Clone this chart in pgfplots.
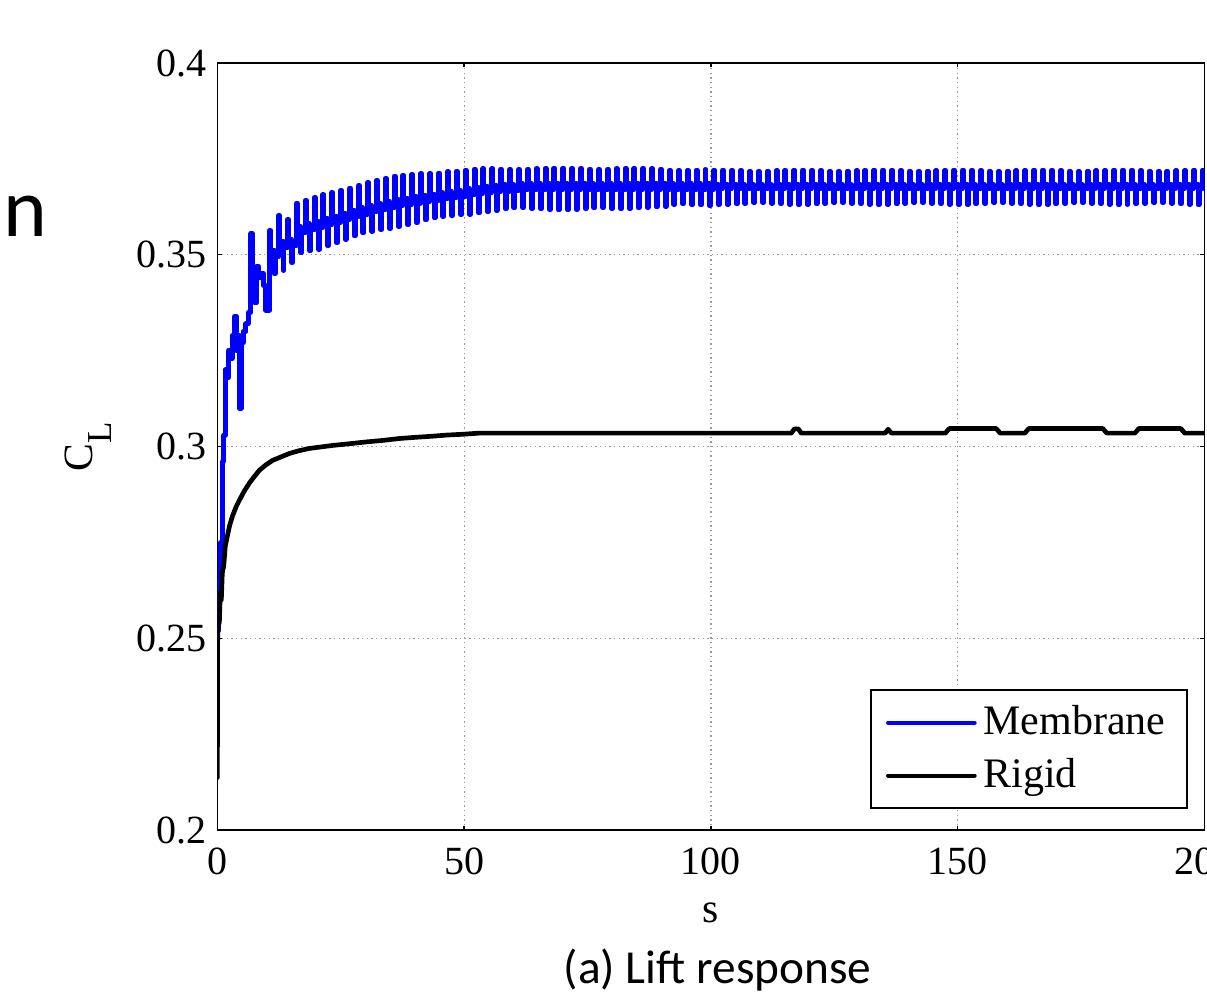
\documentclass[border=0pt]{standalone}
\usepackage{fontspec}
\setmainfont{Liberation Serif}
\newfontfamily\carlito{Carlito}
\usepackage{pgfplots}
\pgfplotsset{compat=1.18}
\begin{document}
\begin{tikzpicture}
\begin{axis}[
  scale only axis, width=296.1pt, height=230.1pt,
  xmin=0, xmax=200, ymin=0.2, ymax=0.4,
  xtick={0,50,100,150,200}, xticklabels={0,50,100,150,200},
  ytick={0.2,0.25,0.3,0.35,0.4}, yticklabels={0.2,0.25,0.3,0.35,0.4},
  tick label style={font=\fontsize{12}{14}\selectfont},
  xticklabel style={anchor=north, inner sep=0pt, yshift=-5.1pt},
  yticklabel style={anchor=east, inner sep=0pt, xshift=-3pt},
  grid=major, major grid style={densely dotted, gray!80, line width=0.35pt},
  tick align=inside, major tick length=1.3pt,
  every tick/.style={black, line width=0.4pt},
  axis line style={line width=0.4pt},
  xlabel={s},
  ylabel={C\raisebox{-5.7pt}{\fontsize{10.5}{12}\selectfont L}},
  label style={font=\fontsize{12.5}{14}\selectfont},
  xlabel style={at={(axis description cs:0.5,0)}, anchor=base, yshift=-27.6pt},
  ylabel style={at={(axis description cs:-0.126,0.5)}, anchor=base},
  legend style={at={(1,0)}, anchor=south east, xshift=-5pt, yshift=6.4pt,
    draw=black, line width=0.5pt, fill=white,
    font=\fontsize{12.6}{14}\selectfont, inner xsep=4.5pt, inner ysep=2.6pt,
    row sep=1.6pt, nodes={inner sep=2pt}},
  legend cell align=left,
]
\addplot[blue, line width=1.5pt, const plot, line join=round, line cap=round,
  legend image code/.code={\draw[blue, line width=1.2pt] (0pt,0pt) -- (26pt,0pt);}]
coordinates {
(0.0,0.2520)(0.3,0.2650)(0.7,0.2750)(1.0,0.2960)(1.2,0.3030)(1.6,0.3200)(2.0,0.3180)(2.3,0.3250)(2.7,0.3230)(3.0,0.3290)(3.5,0.3340)(3.8,0.3250)(4.2,0.3290)(4.5,0.3100)(4.8,0.3270)(5.2,0.3300)(5.8,0.3320)(6.3,0.3350)(6.8,0.3555)(7.1,0.3400)(7.6,0.3375)(8.0,0.3470)(8.4,0.3440)(9.0,0.3450)(9.4,0.3420)(9.8,0.3356)
(10.6,0.3563)(10.8,0.3511)(11.5,0.3451)(11.7,0.3495)
(12.4,0.3602)(12.6,0.3535)(13.3,0.3460)(13.5,0.3519)
(14.2,0.3592)(14.4,0.3540)(15.1,0.3480)(15.3,0.3524)
(16.0,0.3635)(16.2,0.3574)(16.9,0.3505)(17.1,0.3558)
(17.8,0.3642)(18.0,0.3581)(18.7,0.3510)(18.9,0.3565)
(19.6,0.3649)(19.8,0.3587)(20.5,0.3515)(20.7,0.3571)
(21.4,0.3656)(21.6,0.3594)(22.3,0.3524)(22.5,0.3578)
(23.2,0.3662)(23.4,0.3601)(24.1,0.3532)(24.3,0.3585)
(25.0,0.3668)(25.2,0.3608)(25.9,0.3541)(26.1,0.3592)
(26.8,0.3674)(27.0,0.3615)(27.7,0.3549)(27.9,0.3599)
(28.6,0.3680)(28.8,0.3622)(29.5,0.3557)(29.7,0.3606)
(30.4,0.3688)(30.6,0.3629)(31.3,0.3562)(31.5,0.3613)
(32.2,0.3694)(32.4,0.3634)(33.1,0.3566)(33.3,0.3618)
(34.0,0.3699)(34.2,0.3639)(34.9,0.3569)(35.1,0.3623)
(35.8,0.3705)(36.0,0.3644)(36.7,0.3574)(36.9,0.3628)
(37.6,0.3707)(37.8,0.3647)(38.5,0.3579)(38.7,0.3631)
(39.4,0.3709)(39.6,0.3651)(40.3,0.3584)(40.5,0.3635)
(41.2,0.3711)(41.4,0.3654)(42.1,0.3591)(42.3,0.3638)
(43.0,0.3712)(43.2,0.3658)(43.9,0.3596)(44.1,0.3642)
(44.8,0.3713)(45.0,0.3662)(45.7,0.3601)(45.9,0.3646)
(46.6,0.3716)(46.8,0.3665)(47.5,0.3602)(47.7,0.3649)
(48.4,0.3718)(48.6,0.3668)(49.3,0.3605)(49.5,0.3652)
(50.2,0.3721)(50.4,0.3672)(51.1,0.3606)(51.3,0.3656)
(52.0,0.3723)(52.2,0.3675)(52.9,0.3609)(53.1,0.3659)
(53.8,0.3724)(54.0,0.3678)(54.7,0.3613)(54.9,0.3662)
(55.6,0.3724)(55.8,0.3680)(56.5,0.3616)(56.7,0.3664)
(57.4,0.3723)(57.6,0.3682)(58.3,0.3620)(58.5,0.3666)
(59.2,0.3722)(59.4,0.3683)(60.1,0.3622)(60.3,0.3667)
(61.0,0.3722)(61.2,0.3685)(61.9,0.3623)(62.1,0.3669)
(62.8,0.3723)(63.0,0.3685)(63.7,0.3621)(63.9,0.3669)
(64.6,0.3724)(64.8,0.3685)(65.5,0.3620)(65.7,0.3669)
(66.4,0.3725)(66.6,0.3685)(67.3,0.3618)(67.5,0.3669)
(68.2,0.3726)(68.4,0.3685)(69.1,0.3617)(69.3,0.3669)
(70.0,0.3726)(70.2,0.3685)(70.9,0.3618)(71.1,0.3669)
(71.8,0.3725)(72.0,0.3685)(72.7,0.3619)(72.9,0.3669)
(73.6,0.3724)(73.8,0.3685)(74.5,0.3621)(74.7,0.3669)
(75.4,0.3723)(75.6,0.3685)(76.3,0.3622)(76.5,0.3669)
(77.2,0.3722)(77.4,0.3685)(78.1,0.3623)(78.3,0.3669)
(79.0,0.3723)(79.2,0.3685)(79.9,0.3621)(80.1,0.3669)
(80.8,0.3724)(81.0,0.3685)(81.7,0.3620)(81.9,0.3669)
(82.6,0.3725)(82.8,0.3685)(83.5,0.3620)(83.7,0.3669)
(84.4,0.3725)(84.6,0.3686)(85.3,0.3623)(85.5,0.3670)
(86.2,0.3725)(86.4,0.3686)(87.1,0.3624)(87.3,0.3670)
(88.0,0.3724)(88.2,0.3686)(88.9,0.3625)(89.1,0.3670)
(89.8,0.3723)(90.0,0.3686)(90.7,0.3627)(90.9,0.3670)
(91.6,0.3720)(91.8,0.3685)(92.5,0.3632)(92.7,0.3670)
(93.4,0.3719)(93.6,0.3685)(94.3,0.3633)(94.5,0.3670)
(95.2,0.3720)(95.4,0.3685)(96.1,0.3631)(96.3,0.3670)
(97.0,0.3721)(97.2,0.3685)(97.9,0.3630)(98.1,0.3670)
(98.8,0.3722)(99.0,0.3685)(99.7,0.3628)(99.9,0.3670)
(100.6,0.3721)(100.8,0.3682)(101.5,0.3631)(101.7,0.3672)
(102.4,0.3721)(102.6,0.3682)(103.3,0.3632)(103.5,0.3672)
(104.2,0.3720)(104.4,0.3682)(105.1,0.3633)(105.3,0.3672)
(106.0,0.3719)(106.2,0.3682)(106.9,0.3635)(107.1,0.3672)
(107.8,0.3718)(108.0,0.3682)(108.7,0.3636)(108.9,0.3672)
(109.6,0.3717)(109.8,0.3682)(110.5,0.3637)(110.7,0.3672)
(111.4,0.3718)(111.6,0.3682)(112.3,0.3635)(112.5,0.3672)
(113.2,0.3719)(113.4,0.3682)(114.1,0.3634)(114.3,0.3672)
(115.0,0.3720)(115.2,0.3682)(115.9,0.3632)(116.1,0.3672)
(116.8,0.3721)(117.0,0.3682)(117.7,0.3631)(117.9,0.3672)
(118.6,0.3721)(118.8,0.3682)(119.5,0.3632)(119.7,0.3672)
(120.4,0.3720)(120.6,0.3682)(121.3,0.3633)(121.5,0.3672)
(122.2,0.3719)(122.4,0.3682)(123.1,0.3635)(123.3,0.3672)
(124.0,0.3718)(124.2,0.3682)(124.9,0.3636)(125.1,0.3672)
(125.8,0.3717)(126.0,0.3682)(126.7,0.3637)(126.9,0.3672)
(127.6,0.3718)(127.8,0.3682)(128.5,0.3635)(128.7,0.3672)
(129.4,0.3719)(129.6,0.3682)(130.3,0.3634)(130.5,0.3672)
(131.2,0.3720)(131.4,0.3682)(132.1,0.3632)(132.3,0.3672)
(133.0,0.3721)(133.2,0.3682)(133.9,0.3631)(134.1,0.3672)
(134.8,0.3721)(135.0,0.3682)(135.7,0.3632)(135.9,0.3672)
(136.6,0.3720)(136.8,0.3682)(137.5,0.3633)(137.7,0.3672)
(138.4,0.3719)(138.6,0.3682)(139.3,0.3635)(139.5,0.3672)
(140.2,0.3718)(140.4,0.3682)(141.1,0.3636)(141.3,0.3672)
(142.0,0.3717)(142.2,0.3682)(142.9,0.3637)(143.1,0.3672)
(143.8,0.3718)(144.0,0.3682)(144.7,0.3635)(144.9,0.3672)
(145.6,0.3719)(145.8,0.3682)(146.5,0.3634)(146.7,0.3672)
(147.4,0.3720)(147.6,0.3682)(148.3,0.3632)(148.5,0.3672)
(149.2,0.3721)(149.4,0.3682)(150.1,0.3631)(150.3,0.3672)
(151.0,0.3721)(151.2,0.3682)(151.9,0.3632)(152.1,0.3672)
(152.8,0.3720)(153.0,0.3682)(153.7,0.3633)(153.9,0.3672)
(154.6,0.3719)(154.8,0.3682)(155.5,0.3635)(155.7,0.3672)
(156.4,0.3718)(156.6,0.3682)(157.3,0.3636)(157.5,0.3672)
(158.2,0.3717)(158.4,0.3682)(159.1,0.3637)(159.3,0.3672)
(160.0,0.3718)(160.2,0.3682)(160.9,0.3635)(161.1,0.3672)
(161.8,0.3719)(162.0,0.3682)(162.7,0.3634)(162.9,0.3672)
(163.6,0.3720)(163.8,0.3682)(164.5,0.3632)(164.7,0.3672)
(165.4,0.3721)(165.6,0.3682)(166.3,0.3631)(166.5,0.3672)
(167.2,0.3721)(167.4,0.3682)(168.1,0.3632)(168.3,0.3672)
(169.0,0.3720)(169.2,0.3682)(169.9,0.3633)(170.1,0.3672)
(170.8,0.3719)(171.0,0.3682)(171.7,0.3635)(171.9,0.3672)
(172.6,0.3718)(172.8,0.3682)(173.5,0.3636)(173.7,0.3672)
(174.4,0.3717)(174.6,0.3682)(175.3,0.3637)(175.5,0.3672)
(176.2,0.3718)(176.4,0.3682)(177.1,0.3635)(177.3,0.3672)
(178.0,0.3719)(178.2,0.3682)(178.9,0.3634)(179.1,0.3672)
(179.8,0.3720)(180.0,0.3682)(180.7,0.3632)(180.9,0.3672)
(181.6,0.3721)(181.8,0.3682)(182.5,0.3631)(182.7,0.3672)
(183.4,0.3721)(183.6,0.3682)(184.3,0.3632)(184.5,0.3672)
(185.2,0.3720)(185.4,0.3682)(186.1,0.3633)(186.3,0.3672)
(187.0,0.3719)(187.2,0.3682)(187.9,0.3635)(188.1,0.3672)
(188.8,0.3718)(189.0,0.3682)(189.7,0.3636)(189.9,0.3672)
(190.6,0.3717)(190.8,0.3682)(191.5,0.3637)(191.7,0.3672)
(192.4,0.3718)(192.6,0.3682)(193.3,0.3635)(193.5,0.3672)
(194.2,0.3719)(194.4,0.3682)(195.1,0.3634)(195.3,0.3672)
(196.0,0.3720)(196.2,0.3682)(196.9,0.3632)(197.1,0.3672)
(197.8,0.3721)(198.0,0.3682)(198.7,0.3631)(198.9,0.3672)
(199.6,0.3721)(199.8,0.3682)(200.5,0.3632)(200.7,0.3672)
};
\addlegendentry{Membrane}
\addplot[black, line width=1.4pt, line join=round, line cap=round,
  legend image code/.code={\draw[black, line width=1.2pt] (0pt,0pt) -- (26pt,0pt);}]
coordinates {
(0.0,0.2137)(0.05,0.2490)(0.2,0.2560)(0.4,0.2540)(0.6,0.2620)(0.8,0.2600)(1.0,0.2670)(1.3,0.2690)(1.6,0.2740)(2.0,0.2765)(2.5,0.2795)(3.1,0.2820)(3.8,0.2843)(4.5,0.2861)(5.5,0.2885)(6.5,0.2905)(7.5,0.2922)(8.5,0.2938)(9.8,0.2952)(11.2,0.2964)(12.9,0.2973)(14.6,0.2982)(16.5,0.2989)(18.6,0.2995)(21.0,0.2999)(23.4,0.3003)(26.5,0.3007)(30.1,0.3012)(33.5,0.3016)(36.9,0.3021)(40.0,0.3024)(43.6,0.3027)(46.5,0.3030)(49.7,0.3032)(53.0,0.3035)
(116.3,0.3035)(116.9,0.3046)(117.7,0.3046)(118.3,0.3035)(135.3,0.3035)(135.9,0.3045)(136.6,0.3035)(147.5,0.3035)(148.3,0.3047)(157.8,0.3047)(158.6,0.3035)(163.6,0.3035)(164.4,0.3047)(179.4,0.3047)(180.2,0.3035)(185.9,0.3035)(186.7,0.3047)(195.2,0.3047)(196.0,0.3035)(200.0,0.3035)
};
\addlegendentry{Rigid}
\end{axis}
\node[anchor=base, inner sep=0pt, font=\carlito\fontsize{14.2}{16}\selectfont] at ([xshift=2pt,yshift=-45.9pt]current axis.south) {(a) Lift response};
\node[anchor=base west, inner sep=0pt, font=\carlito\fontsize{25}{28}\selectfont] at ([xshift=-64.2pt,yshift=-52.1pt]current axis.north west) {n};
\pgfresetboundingbox
\path[use as bounding box] ([xshift=-65.2pt,yshift=-48.6pt]current axis.south west) rectangle ([xshift=0.75pt,yshift=18.9pt]current axis.north east);
\end{tikzpicture}
\end{document}
